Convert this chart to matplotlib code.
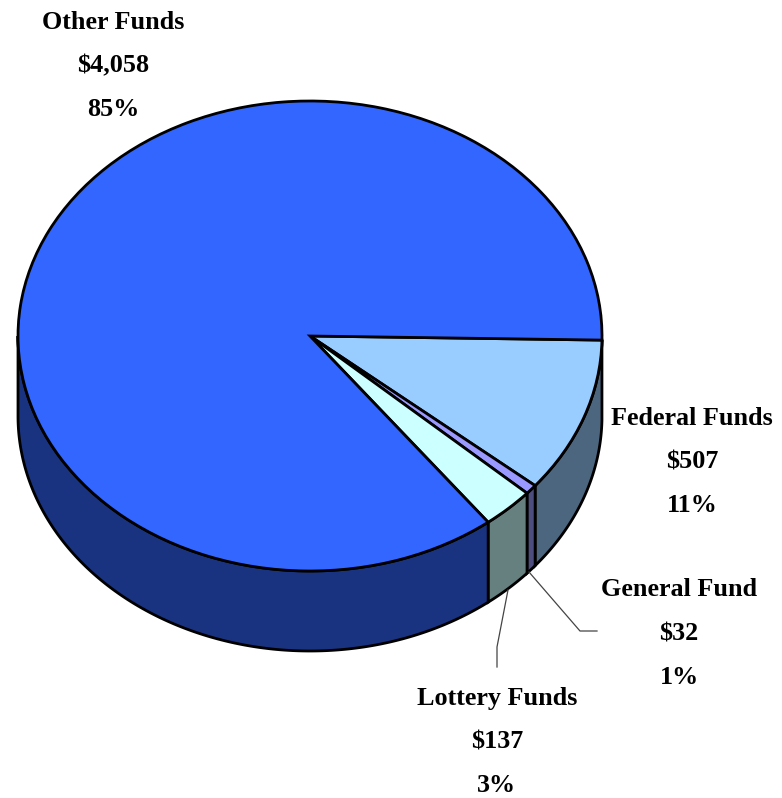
import numpy as np
import matplotlib
matplotlib.use("Agg")
import matplotlib.pyplot as plt

labels = ["Federal Funds", "General Fund", "Lottery Funds", "Other Funds"]
amounts = [507, 32, 137, 4058]
amount_text = ["$507", "$32", "$137", "$4,058"]
pct_text = ["11%", "1%", "3%", "85%"]
top_colors = ["#99CCFF", "#9999FF", "#CCFFFF", "#3366FF"]
side_colors = ["#4D6680", "#4D4D80", "#668080", "#1A3380"]

# pie geometry in pixels of the 782x798 picture
W, H = 782, 798
cx, cy = 310, 336
rx, ry = 292, 235
depth = 80
start = -1.0


def to_px_x(x):
    return (np.asarray(x) - cx) / rx


def to_px_y(y):
    return (cy - np.asarray(y)) / ry


fig = plt.figure(figsize=(W / 100, H / 100), dpi=100)
ax = fig.add_axes([0, 0, 1, 1])

# side walls, only the part facing the viewer (lower half of the ellipse)
fracs = np.array(amounts) / sum(amounts)
a0 = start
d = depth / ry
for frac, col in zip(fracs, side_colors):
    a1 = a0 - frac * 360
    th = np.radians(np.linspace(a0, max(a1, -180), 200))
    x = np.cos(th)
    y = np.sin(th)
    ax.fill(
        np.r_[x, x[::-1]],
        np.r_[y, y[::-1] - d],
        facecolor=col,
        edgecolor="black",
        lw=2,
        zorder=1,
    )
    a0 = a1

# top of the pie
ax.pie(
    amounts,
    colors=top_colors,
    startangle=start,
    counterclock=False,
    wedgeprops={"edgecolor": "black", "linewidth": 2, "zorder": 2},
)
ax.set_aspect("auto")
ax.set_xlim(to_px_x(0), to_px_x(W))
ax.set_ylim(to_px_y(H), to_px_y(0))
ax.axis("off")

# leader lines
ax.plot(to_px_x([529, 580, 597]), to_px_y([572, 631, 631]), color="#444444", lw=0.9)
ax.plot(to_px_x([508, 497, 497]), to_px_y([590, 647, 667]), color="#444444", lw=0.9)

# labels, three lines each
label_x = [692, 679, 497, 113]
label_y = [418, 590, 698, 22]
line_gap = 43.5
for name, amt, pct, lx, ly in zip(labels, amount_text, pct_text, label_x, label_y):
    for i, s in enumerate([name, amt, pct]):
        ax.text(
            to_px_x(lx),
            to_px_y(ly + i * line_gap),
            s,
            ha="center",
            va="center",
            family="Liberation Serif",
            weight="bold",
            fontsize=18.8,
            color="black",
        )

fig.savefig("out.png", dpi=100)
